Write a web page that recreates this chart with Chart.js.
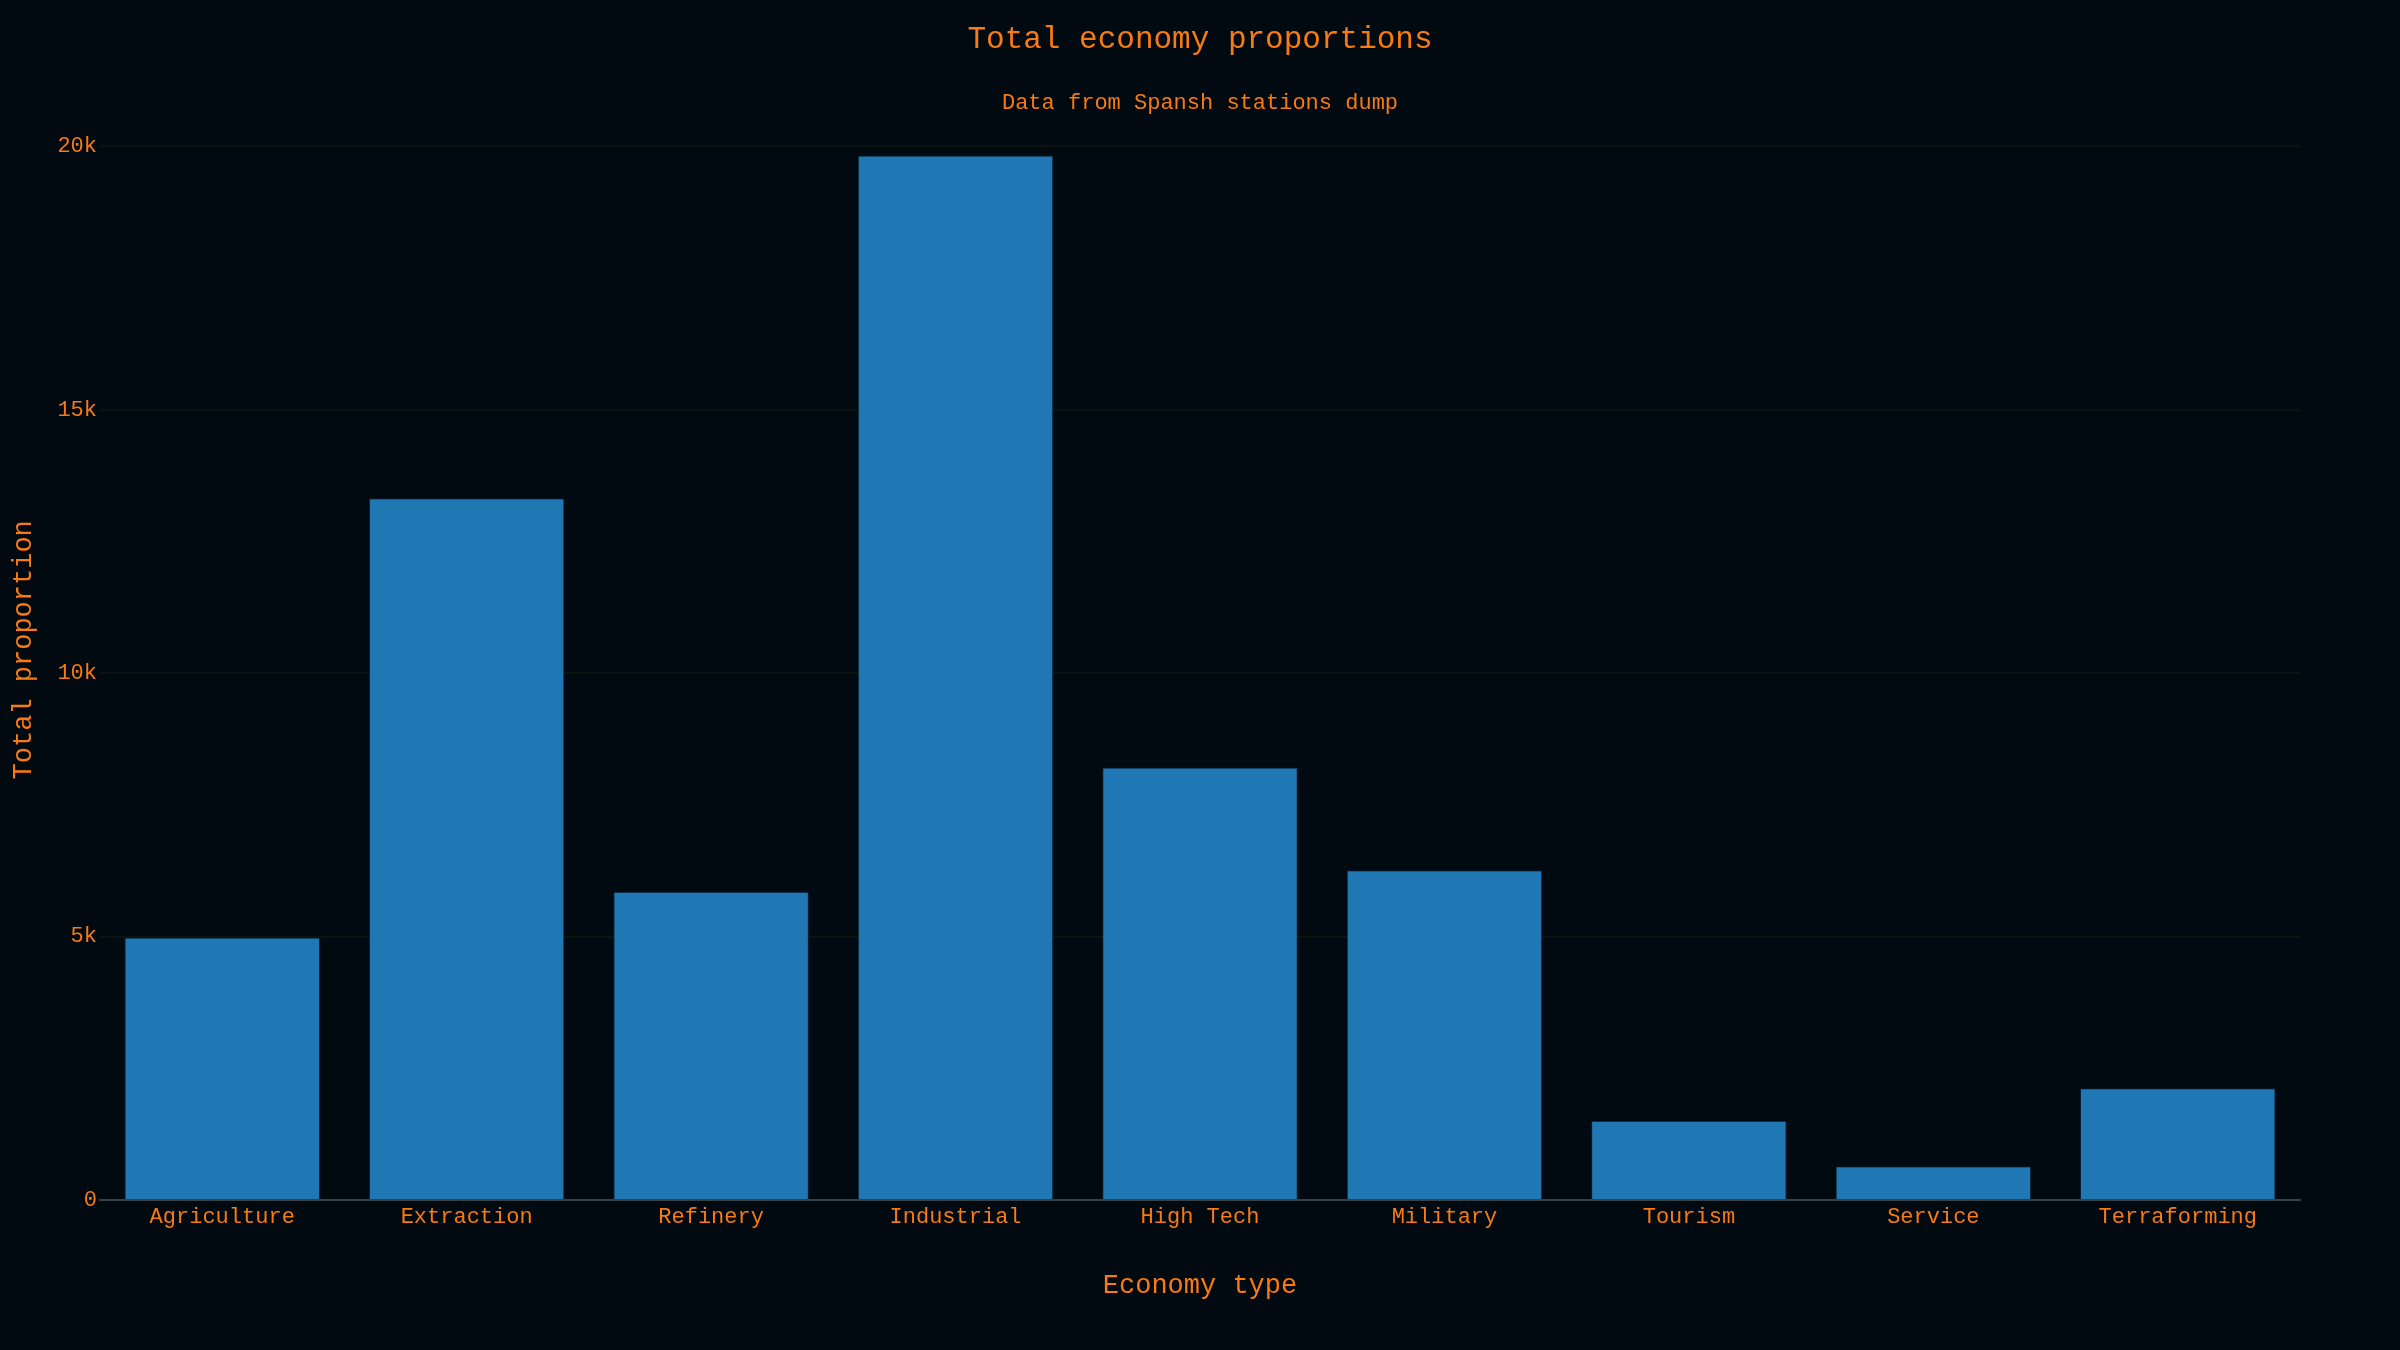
<!DOCTYPE html>
<html lang="en">
<head>
  <meta charset="UTF-8" />
  <title>Total economy proportions</title>
  <script src="https://cdn.jsdelivr.net/npm/chart.js"></script>
  <style>
    html, body {
      margin: 0;
      padding: 0;
      background: #010911;
    }
    #wrap {
      width: 2400px;
      height: 1350px;
    }
  </style>
</head>
<body>
  <div id="wrap"><canvas id="chart" width="2400" height="1350"></canvas></div>

  <script>
    const economyTypes = ["Agriculture", "Extraction", "Refinery", "Industrial", "High Tech", "Military", "Tourism", "Service", "Terraforming"];
    const totals = [4985, 13320, 5850, 19830, 8210, 6260, 1505, 640, 2120];
    const yTicks = [0, 5000, 10000, 15000, 20000];
    const yMax = 20890;

    const orange = "#f77a12";
    const mono = "'Liberation Mono', 'DejaVu Sans Mono', monospace";

    const ctx = document.getElementById("chart").getContext("2d");

    new Chart(ctx, {
      type: "bar",
      data: {
        labels: economyTypes,
        datasets: [{
          label: "Total proportion",
          data: totals,
          backgroundColor: "#1f77b4",
          borderColor: "rgba(10,35,60,0.8)",
          borderWidth: 1,
          categoryPercentage: 1.0,
          barPercentage: 0.8,
        }],
      },
      options: {
        responsive: false,
        animation: false,
        devicePixelRatio: 1,
        layout: {
          padding: 0,
        },
        plugins: {
          legend: { display: false },
          tooltip: { enabled: false },
          title: {
            display: true,
            text: "Total economy proportions",
            color: orange,
            font: { family: mono, size: 31, weight: "normal" },
            padding: { top: 21, bottom: 32 },
          },
          subtitle: {
            display: true,
            text: "Data from Spansh stations dump",
            color: orange,
            font: { family: mono, size: 22, weight: "normal" },
            padding: { top: 0, bottom: -17 },
          },
        },
        scales: {
          x: {
            grid: { display: false, drawTicks: false },
            border: { display: true, color: "#3a3f44", width: 2 },
            ticks: {
              color: orange,
              font: { family: mono, size: 22 },
              padding: 4,
              maxRotation: 0,
            },
            title: {
              display: true,
              text: "Economy type",
              color: orange,
              font: { family: mono, size: 27 },
              padding: { top: 0, bottom: 48 },
            },
            afterFit: (scale) => { scale.height = 150; },
          },
          y: {
            min: 0,
            max: yMax,
            afterBuildTicks: (scale) => {
              scale.ticks = yTicks.map(v => ({ value: v }));
            },
            grid: { color: "#09130f", lineWidth: 2, drawTicks: false },
            border: { display: false },
            ticks: {
              color: orange,
              font: { family: mono, size: 22 },
              padding: 3,
              callback: (v) => v === 0 ? "0" : (v / 1000) + "k",
            },
            title: {
              display: true,
              text: "Total proportion",
              color: orange,
              font: { family: mono, size: 27 },
              padding: { top: 8, bottom: 0 },
            },
            afterFit: (scale) => { scale.width = 100; },
          },
          // empty right-hand axis: keeps the right margin so the titles stay centred
          y2: {
            position: "right",
            min: 0,
            max: yMax,
            grid: { display: false, drawTicks: false },
            border: { display: false },
            ticks: { display: false },
            afterFit: (scale) => { scale.width = 100; },
          },
        },
      },
    });
  </script>
</body>
</html>
